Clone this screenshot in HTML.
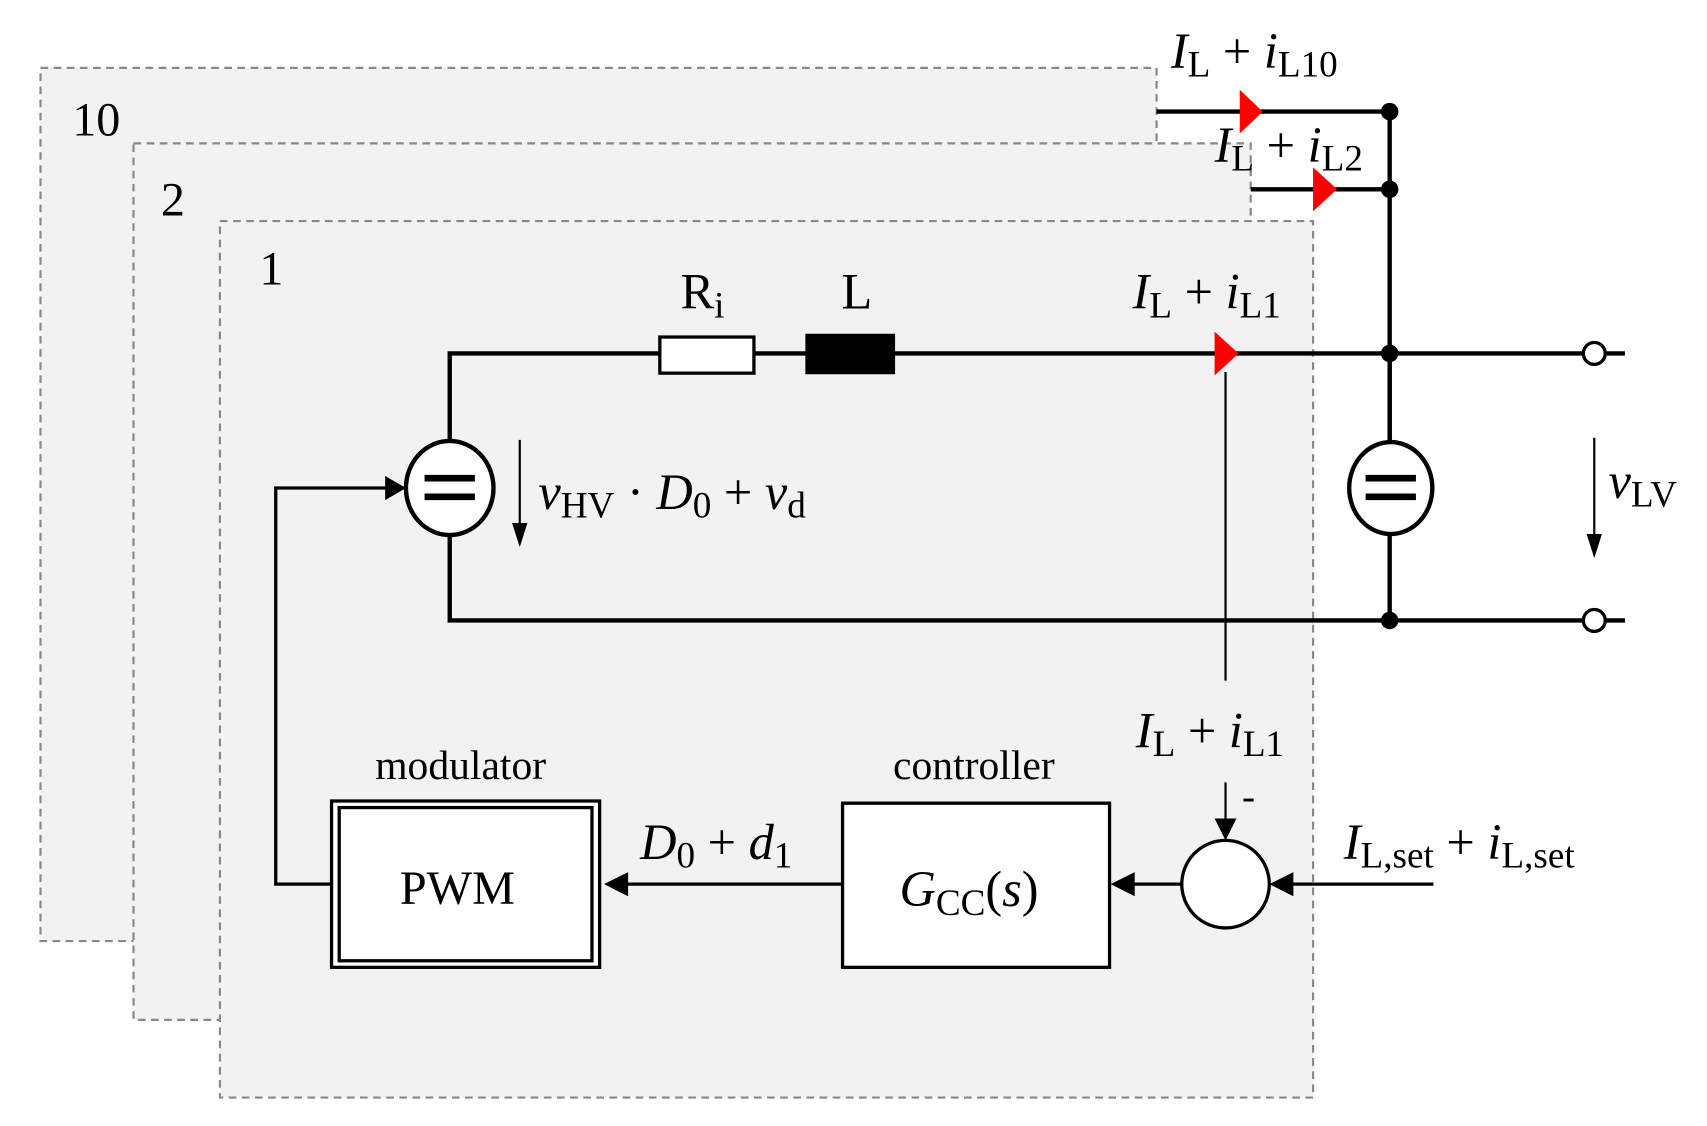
<!DOCTYPE html>
<html><head><style>html,body{margin:0;padding:0;background:#fff}svg{display:block}</style></head>
<body>
<svg width="1707" height="1126" viewBox="0 0 1560 1029" preserveAspectRatio="none" xmlns="http://www.w3.org/2000/svg" font-family="'Liberation Serif', serif">
<g fill="#f2f2f2" stroke="#888" stroke-width="2" stroke-dasharray="7,5">
<rect x="37" y="62" width="1020" height="798"/>
<rect x="122" y="131" width="1021" height="801"/>
<rect x="201" y="202" width="999" height="801"/>
</g>
<g font-size="44" fill="#000">
<text x="66" y="124">10</text>
<text x="147" y="197">2</text>
<text x="237" y="260">1</text>
</g>
<g stroke="#000" stroke-width="4" fill="none">
<polyline points="1057,102 1270,102 1270,567"/>
<line x1="1143" y1="173" x2="1270" y2="173"/>
<polyline points="411,406 411,323 1485,323"/>
<polyline points="411,486 411,567 1485,567"/>
<line x1="1270" y1="323" x2="1270" y2="406"/>
</g>
<g fill="#000">
<circle cx="1270" cy="102" r="8"/><circle cx="1270" cy="173" r="8"/>
<circle cx="1270" cy="323" r="8"/><circle cx="1270" cy="567" r="8"/>
</g>
<circle cx="1457" cy="323" r="10" fill="#fff" stroke="#000" stroke-width="3"/>
<circle cx="1457" cy="567" r="10" fill="#fff" stroke="#000" stroke-width="3"/>
<rect x="603" y="308" width="86" height="33" fill="#fff" stroke="#000" stroke-width="3"/>
<rect x="736" y="305" width="82" height="37" fill="#000"/>
<g fill="#f00">
<polygon points="1133,82 1154,102 1133,122"/>
<polygon points="1200,153 1222,173 1200,193"/>
<polygon points="1110,303 1132,323 1110,343"/>
</g>
<ellipse cx="411" cy="446" rx="40" ry="43" fill="#fff" stroke="#000" stroke-width="4"/>
<ellipse cx="1271" cy="446" rx="38" ry="42" fill="#fff" stroke="#000" stroke-width="4"/>
<g stroke="#000" stroke-width="6">
<line x1="388" y1="437" x2="434" y2="437"/><line x1="388" y1="454" x2="434" y2="454"/>
<line x1="1248" y1="437" x2="1294" y2="437"/><line x1="1248" y1="454" x2="1294" y2="454"/>
</g>
<g stroke="#000" stroke-width="2" fill="none">
<line x1="475" y1="402" x2="475" y2="480"/>
<line x1="1457" y1="400" x2="1457" y2="490"/>
<line x1="1120" y1="340" x2="1120" y2="622"/>
<line x1="1120" y1="715" x2="1120" y2="750"/>
</g>
<g fill="#000">
<polygon points="468,478 482,478 475,500"/>
<polygon points="1450,488 1464,488 1457,510"/>
<polygon points="1110,748 1130,748 1120,768"/>
</g>
<g stroke="#000" stroke-width="3" fill="none">
<polyline points="303,808 252,808 252,446 355,446"/>
<line x1="1310" y1="808" x2="1180" y2="808"/>
<line x1="1080" y1="808" x2="1035" y2="808"/>
<line x1="770" y1="808" x2="572" y2="808"/>
</g>
<g fill="#000">
<polygon points="352,435 352,457 371,446"/>
<polygon points="1182,797 1182,819 1160,808"/>
<polygon points="1037,797 1037,819 1015,808"/>
<polygon points="574,797 574,819 552,808"/>
</g>
<circle cx="1120" cy="808" r="40" fill="#fff" stroke="#000" stroke-width="3"/>
<rect x="770" y="734" width="244" height="150" fill="#fff" stroke="#000" stroke-width="3"/>
<rect x="303" y="732" width="245" height="152" fill="#fff" stroke="#000" stroke-width="3"/>
<rect x="310" y="738" width="231" height="140" fill="none" stroke="#000" stroke-width="3"/>
<g fill="#000" font-size="46">
<text x="622" y="282">R<tspan font-size="34" dy="8">i</tspan></text>
<text x="769" y="282">L</text>
<text x="1070" y="62"><tspan font-style="italic">I</tspan><tspan font-size="34" dy="8">L</tspan><tspan dy="-8"> + </tspan><tspan font-style="italic">i</tspan><tspan font-size="34" dy="8">L10</tspan></text>
<text x="1110" y="148"><tspan font-style="italic">I</tspan><tspan font-size="34" dy="8">L</tspan><tspan dy="-8"> + </tspan><tspan font-style="italic">i</tspan><tspan font-size="34" dy="8">L2</tspan></text>
<text x="1035" y="282"><tspan font-style="italic">I</tspan><tspan font-size="34" dy="8">L</tspan><tspan dy="-8"> + </tspan><tspan font-style="italic">i</tspan><tspan font-size="34" dy="8">L1</tspan></text>
<text x="1038" y="683"><tspan font-style="italic">I</tspan><tspan font-size="34" dy="8">L</tspan><tspan dy="-8"> + </tspan><tspan font-style="italic">i</tspan><tspan font-size="34" dy="8">L1</tspan></text>
<text x="492" y="465"><tspan font-style="italic">v</tspan><tspan font-size="34" dy="8">HV</tspan><tspan dy="-8"> · </tspan><tspan font-style="italic">D</tspan><tspan font-size="34" dy="8">0</tspan><tspan dy="-8"> + </tspan><tspan font-style="italic">v</tspan><tspan font-size="34" dy="8">d</tspan></text>
<text x="1470" y="455"><tspan font-style="italic">v</tspan><tspan font-size="34" dy="8">LV</tspan></text>
<text x="1228" y="785"><tspan font-style="italic">I</tspan><tspan font-size="34" dy="8">L,set</tspan><tspan dy="-8"> + </tspan><tspan font-style="italic">i</tspan><tspan font-size="34" dy="8">L,set</tspan></text>
<text x="585" y="785"><tspan font-style="italic">D</tspan><tspan font-size="34" dy="8">0</tspan><tspan dy="-8"> + </tspan><tspan font-style="italic">d</tspan><tspan font-size="34" dy="8">1</tspan></text>
<text x="822" y="828"><tspan font-style="italic">G</tspan><tspan font-size="34" dy="8">CC</tspan><tspan dy="-8">(</tspan><tspan font-style="italic">s</tspan>)</text>
<text x="418" y="826" text-anchor="middle" font-size="44">PWM</text>
<text x="1135" y="740" font-size="36">-</text>
</g>
<g fill="#000" font-size="38" text-anchor="middle">
<text x="421" y="712">modulator</text>
<text x="890" y="712">controller</text>
</g>
</svg>
</body></html>
